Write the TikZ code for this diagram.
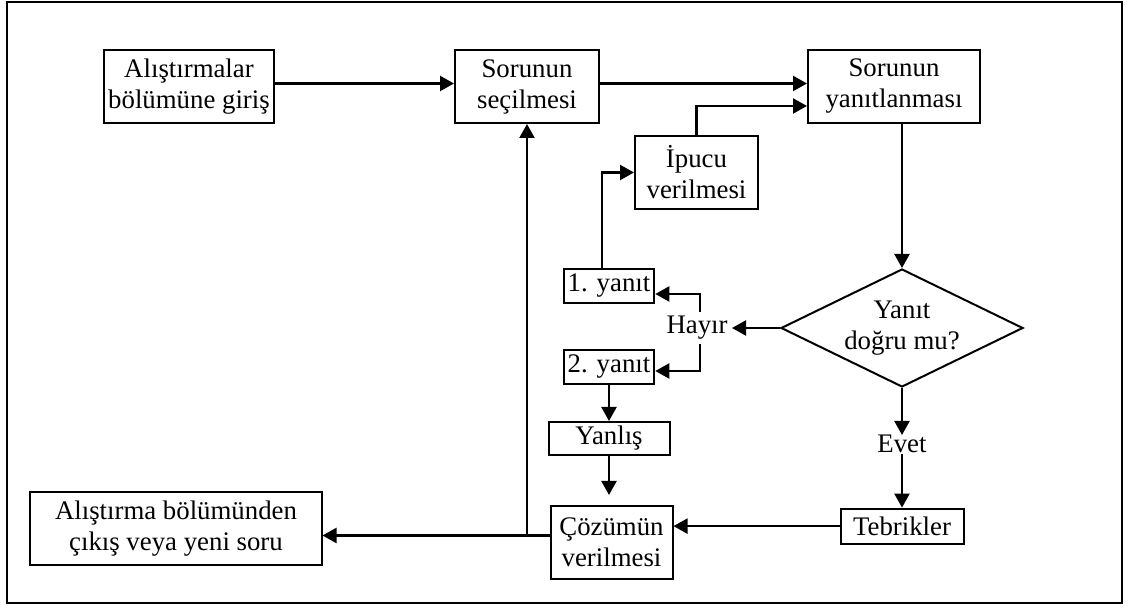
\documentclass[tikz,border=0pt]{standalone}
\usepackage{fontspec}
\setmainfont{Liberation Serif}
\usetikzlibrary{positioning,arrows.meta,shapes.geometric}

\begin{document}
\begin{tikzpicture}[
font=\fontsize{13.4}{15.5}\selectfont,
box/.style={rectangle,draw,line width=1pt,align=center,inner xsep=2pt,inner ysep=2pt,minimum height=36.5pt},
smallbox/.style={box,minimum height=17pt},
tag/.style={inner sep=2pt},
decision/.style={diamond,draw,line width=1pt,align=center,aspect=2,inner sep=0pt,minimum width=121pt,minimum height=59pt},
arrow/.style={-{Triangle[length=7pt,width=7.5pt]},line width=1.1pt}
]
\useasboundingbox (-94.5pt,43.25pt) rectangle (476pt,-260.75pt);
\draw[line width=1.3pt] (-91pt,42.25pt) rectangle (466.5pt,-258.25pt);

\node[box,minimum width=85pt] (intro) at (0,0) {Alıştırmalar\\bölümüne giriş};
\node[box,minimum width=72pt,right=89.5pt of intro] (sel) {Sorunun\\seçilmesi};
\node[box,minimum width=86pt,right=103.5pt of sel] (ans) {Sorunun\\yanıtlanması};
\node[box,minimum width=61.5pt,below left=5.5pt and 24pt of ans] (hint) {İpucu\\verilmesi};
\node[decision,below=72pt of ans,xshift=4pt] (dia) {Yanıt\\doğru mu?};
\node[tag,left=24pt of dia] (hay) {Hayır};
\node[smallbox,minimum width=45pt,below=29pt of hint,xshift=-43.75pt] (y1) {1. yanıt};
\node[smallbox,minimum width=45pt,below=22.5pt of y1] (y2) {2. yanıt};
\node[smallbox,minimum width=60.5pt,minimum height=16.5pt,below=18pt of y2] (wrong) {Yanlış};
\node[box,minimum width=61pt,below=24.5pt of wrong,xshift=1.25pt] (coz) {Çözümün\\verilmesi};
\node[tag,inner sep=0pt,below=23.5pt of dia] (evet) {Evet};
\node[smallbox,minimum width=61.5pt,minimum height=17.5pt,below=27pt of evet] (teb) {Tebrikler};
\node[box,minimum width=145.5pt,left=113.5pt of coz,yshift=7pt] (exit) {Alıştırma bölümünden\\çıkış veya yeni soru};

\draw[arrow] ([yshift=1.5pt]intro.east) -- ([yshift=1.5pt]sel.west);
\draw[arrow] ([yshift=1.5pt]sel.east) -- ([yshift=1.5pt]ans.west);
\draw[arrow] (hint.north) |- ([yshift=-9.75pt]ans.west);
\draw[arrow] (ans.south -| dia.north) -- (dia.north);
\draw[arrow] (dia.west) -- (hay.east);
\draw[arrow] ([xshift=1.5pt]hay.north) |- ([yshift=-4pt]y1.east);
\draw[arrow] ([xshift=1.5pt]hay.south) |- ([yshift=-2pt]y2.east);
\draw[arrow] ([xshift=-3.5pt]y1.north) |- (hint.west);
\draw[arrow] (y2.south) -- (y2.south |- wrong.north);
\draw[arrow,shorten >=5pt] (wrong.south) -- (wrong.south |- coz.north);
\draw[arrow] (dia.south) -- (evet.north);
\draw[arrow] (evet.south) -- (teb.north);
\draw[arrow] (teb.west) -- (teb.west -| coz.east);
\path (coz.west) ++(0,3.5pt) coordinate (join);
\draw[arrow] (join) -- (join -| exit.east);
\draw[arrow] (join -| sel.south) -- (sel.south);
\end{tikzpicture}
\end{document}
